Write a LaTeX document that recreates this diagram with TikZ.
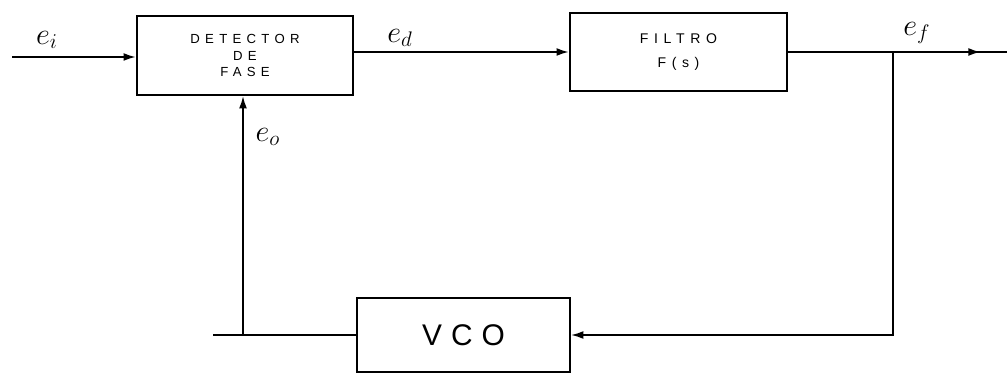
\documentclass[tikz,border=0pt]{standalone}
\usepackage{amsmath,amssymb}
\usepackage{fontspec}
\newfontfamily\handfont[LetterSpace=40]{Liberation Sans}
\newfontfamily\bigfont[LetterSpace=30]{Liberation Sans}
\usetikzlibrary{arrows.meta,decorations.markings}

\begin{document}
\begin{tikzpicture}[x=0.02cm,y=-0.02cm,
    blk/.style={draw,line width=1.3pt,inner sep=0pt,align=center},
    sig/.style={-{Latex[length=7pt,width=4.5pt]},line width=1.1pt},
    fb/.style={line width=0.9pt},
    midarrow/.style={postaction={decorate},decoration={markings,
      mark=at position #1 with {\arrow{Latex[length=7pt,width=4.5pt]}}}},
    lbl/.style={inner sep=1pt,font=\LARGE}]
  \useasboundingbox (0,0) rectangle (1007,378);
  \node[blk,minimum width=4.32cm,minimum height=1.58cm,font=\handfont\fontsize{7.5}{9.5}\selectfont] (det) at (245,55.5) {DETECTOR\\DE\\FASE};
  \node[blk,minimum width=4.34cm,minimum height=1.56cm,font=\handfont\fontsize{8}{14}\selectfont] (filt) at (678.5,52) {FILTRO\\F(s)};
  \node[blk,minimum width=4.26cm,minimum height=1.48cm,font=\bigfont\fontsize{17}{20}\selectfont] (vco) at (463.5,335) {VCO};
  \coordinate (in) at (12,57);
  \coordinate (jn) at (893,52);
  \coordinate (out) at (1007,52);
  \coordinate (corner) at (243,335);
  \coordinate (stub) at (213,335);
  \node[lbl] (ei) at (47,40) {$e_i$};
  \node[lbl] (ed) at (400,38) {$e_d$};
  \node[lbl] (ef) at (917,33) {$e_f$};
  \node[lbl] (eo) at (268,137) {$e_o$};
  \draw[sig] (in) -- (in -| det.west);
  \draw[sig] (det.east |- filt.west) -- (filt.west);
  \draw[line width=1.1pt,midarrow=0.88] (filt.east) -- (out);
  \draw[sig,fb] (jn) |- (vco.east);
  \draw[fb] (vco.west) -- (stub);
  \draw[sig,fb] (corner) -- (corner |- det.south);
\end{tikzpicture}
\end{document}
